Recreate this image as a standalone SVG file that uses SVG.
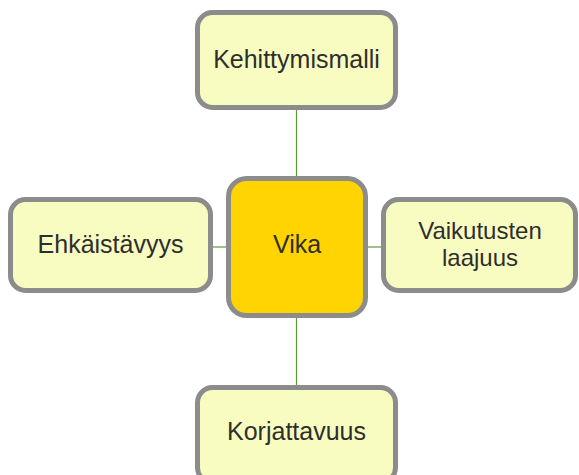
<svg xmlns="http://www.w3.org/2000/svg" width="579" height="475" viewBox="0 0 579 475">
  <style>
    .box { fill: #f9fcc0; stroke: #8c8c8c; stroke-width: 5; }
    .core { fill: #ffd400; stroke: #8c8c8c; stroke-width: 5; }
    .lbl { font-family: "Liberation Sans", Arial, sans-serif; font-size: 25px; fill: #2e2e2e; text-anchor: middle; }
    .link { stroke: #5e9a32; stroke-width: 1.2; fill: none; }
  </style>
  <rect width="579" height="475" fill="#ffffff"/>
  <g id="connectors">
    <line class="link" x1="296.5" y1="110" x2="296.5" y2="177"/>
    <line class="link" x1="296.5" y1="317" x2="296.5" y2="386"/>
    <line class="link" x1="212" y1="247" x2="227" y2="247"/>
    <line class="link" x1="367" y1="247" x2="382" y2="247"/>
  </g>
  <g id="kehittymismalli">
    <rect class="box" x="197.5" y="12.5" width="198" height="95" rx="15"/>
    <text class="lbl" x="296.5" y="68">Kehittymismalli</text>
  </g>
  <g id="vika">
    <rect class="core" x="228.5" y="178.5" width="137" height="137" rx="18"/>
    <text class="lbl" x="297" y="253">Vika</text>
  </g>
  <g id="ehkaistavyys">
    <rect class="box" x="10.5" y="199.5" width="200" height="91" rx="15"/>
    <text class="lbl" x="110.5" y="253">Ehkäistävyys</text>
  </g>
  <g id="vaikutusten-laajuus">
    <rect class="box" x="383.5" y="199.5" width="192" height="91" rx="15"/>
    <text class="lbl" x="480" y="239" style="font-size:24px">Vaikutusten</text>
    <text class="lbl" x="480" y="266" style="font-size:24px">laajuus</text>
  </g>
  <g id="korjattavuus">
    <rect class="box" x="197.5" y="387.5" width="198" height="95" rx="15"/>
    <text class="lbl" x="296.5" y="440">Korjattavuus</text>
  </g>
</svg>
